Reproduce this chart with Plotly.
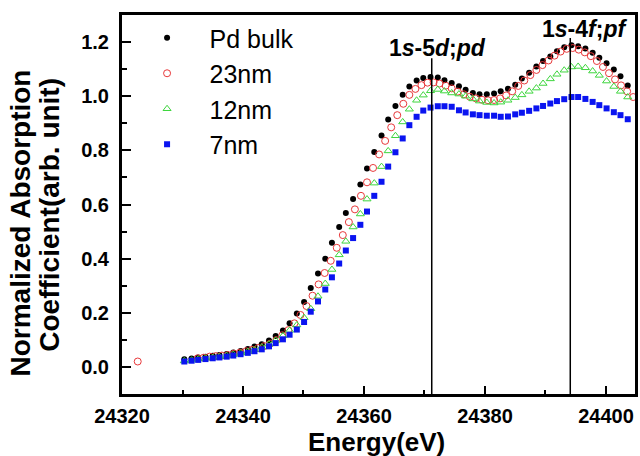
import plotly.graph_objects as go

# ---------------- data ----------------
grid_energy = [24330.3, 24331.5, 24332.6, 24333.8, 24335.0, 24336.1, 24337.3, 24338.4,
               24339.6, 24340.8, 24341.9, 24343.1, 24344.3, 24345.4, 24346.6, 24347.7,
               24348.9, 24350.1, 24351.2, 24352.4, 24353.6, 24354.7, 24355.9, 24357.0,
               24358.2, 24359.4, 24360.5, 24361.7, 24362.9, 24364.0, 24365.2, 24366.4,
               24367.5, 24368.7, 24369.8, 24371.0, 24372.2, 24373.3, 24374.5, 24375.7,
               24376.8, 24378.0, 24379.1, 24380.3, 24381.5, 24382.6, 24383.8, 24385.0,
               24386.1, 24387.3, 24388.5, 24389.6, 24390.8, 24391.9, 24393.1, 24394.3,
               24395.4, 24396.6, 24397.8, 24398.9, 24400.1, 24401.3, 24402.4, 24403.6]

pd_bulk = [0.028, 0.031, 0.035, 0.038, 0.041, 0.044, 0.048, 0.053,
           0.059, 0.066, 0.075, 0.084, 0.098, 0.114, 0.135, 0.161,
           0.197, 0.240, 0.292, 0.345, 0.400, 0.459, 0.517, 0.569,
           0.620, 0.674, 0.733, 0.794, 0.855, 0.914, 0.964, 1.005,
           1.036, 1.058, 1.067, 1.071, 1.069, 1.059, 1.049, 1.037,
           1.024, 1.012, 1.007, 1.007, 1.010, 1.018, 1.028, 1.042,
           1.065, 1.087, 1.110, 1.130, 1.147, 1.166, 1.181, 1.188,
           1.185, 1.176, 1.161, 1.142, 1.122, 1.099, 1.074, 1.040]

nm12 = [0.022, 0.025, 0.029, 0.032, 0.035, 0.038, 0.042, 0.046,
        0.051, 0.057, 0.064, 0.073, 0.084, 0.098, 0.115, 0.135,
        0.155, 0.182, 0.215, 0.261, 0.308, 0.360, 0.414, 0.464,
        0.517, 0.565, 0.620, 0.679, 0.740, 0.798, 0.854, 0.905,
        0.952, 0.985, 1.004, 1.020, 1.025, 1.019, 1.012, 1.008,
        1.000, 0.990, 0.982, 0.977, 0.975, 0.978, 0.985, 0.995,
        1.005, 1.018, 1.030, 1.047, 1.064, 1.081, 1.096, 1.108,
        1.110, 1.105, 1.093, 1.077, 1.056, 1.036, 1.018, 0.997]

nm7 = [0.020, 0.023, 0.026, 0.029, 0.032, 0.035, 0.038, 0.042,
       0.047, 0.052, 0.058, 0.065, 0.076, 0.088, 0.102, 0.119,
       0.138, 0.166, 0.204, 0.242, 0.286, 0.331, 0.382, 0.430,
       0.476, 0.525, 0.574, 0.632, 0.684, 0.740, 0.793, 0.844,
       0.893, 0.924, 0.947, 0.958, 0.963, 0.963, 0.961, 0.948,
       0.940, 0.933, 0.930, 0.928, 0.928, 0.924, 0.925, 0.933,
       0.939, 0.946, 0.955, 0.964, 0.973, 0.982, 0.989, 0.997,
       0.997, 0.990, 0.979, 0.967, 0.955, 0.941, 0.930, 0.915]

nm23_energy = [24322.6,
               24332.5, 24333.5, 24334.5, 24335.5, 24336.5, 24337.5, 24338.5, 24339.5,
               24340.5, 24341.5, 24342.5, 24343.5, 24344.5, 24345.5, 24346.5, 24347.5,
               24348.5, 24349.5, 24350.5, 24351.5, 24352.5, 24353.5, 24354.5, 24355.5,
               24356.5, 24357.5, 24358.5, 24359.5, 24360.5, 24361.5, 24362.5, 24363.5,
               24364.5, 24365.5, 24366.5, 24367.5, 24368.5, 24369.5, 24370.5, 24371.5,
               24372.5, 24373.5, 24374.5, 24375.5, 24376.5, 24377.5, 24378.5, 24379.5,
               24380.5, 24381.5, 24382.5, 24383.5, 24384.5, 24385.5, 24386.5, 24387.5,
               24388.5, 24389.5, 24390.5, 24391.5, 24392.5, 24393.5, 24394.5, 24395.5,
               24396.5, 24397.5, 24398.5, 24399.5, 24400.5, 24401.5, 24402.5, 24403.5,
               24404.5]

nm23 = [0.020,
        0.032, 0.034, 0.038, 0.040, 0.042, 0.044, 0.049, 0.053,
        0.058, 0.063, 0.070, 0.077, 0.086, 0.099, 0.117, 0.136,
        0.161, 0.192, 0.225, 0.263, 0.305, 0.347, 0.392, 0.440,
        0.487, 0.535, 0.582, 0.632, 0.682, 0.735, 0.785, 0.835,
        0.885, 0.930, 0.972, 1.005, 1.027, 1.041, 1.050, 1.051,
        1.047, 1.039, 1.029, 1.017, 1.007, 0.998, 0.992, 0.987,
        0.985, 0.986, 0.992, 1.003, 1.018, 1.038, 1.058, 1.078,
        1.097, 1.115, 1.132, 1.150, 1.165, 1.175, 1.178, 1.172,
        1.162, 1.148, 1.130, 1.108, 1.085, 1.062, 1.040, 1.018,
        0.997]

series_names = ["Pd bulk", "23nm", "12nm", "7nm"]
edge_lines = [24371.2, 24394.1]
edge_line_tops = [1.14, 1.215]
edge_labels = ["<b>1<i>s</i>-5<i>d</i>;<i>pd</i></b>", "<b>1<i>s</i>-4<i>f</i>;<i>pf</i></b>"]
edge_label_pos = [(24372.2, 1.177), (24396.4, 1.25)]

x_range = [24320, 24404.8]
y_range = [-0.1, 1.3]

# ---------------- figure ----------------
fig = go.Figure()
fig.add_trace(go.Scatter(x=grid_energy, y=pd_bulk, mode="markers", name=series_names[0],
                         legendgroup="a",
                         marker=dict(symbol="circle", size=6, color="black")))
fig.add_trace(go.Scatter(x=nm23_energy, y=nm23, mode="markers", name=series_names[1],
                         legendgroup="b",
                         marker=dict(symbol="circle-open", size=7, color="#e8383a",
                                     line=dict(width=1, color="#e8383a"))))
fig.add_trace(go.Scatter(x=grid_energy, y=nm12, mode="markers", name=series_names[2],
                         legendgroup="c",
                         marker=dict(symbol="triangle-up-open", size=7, color="#3ed63e",
                                     line=dict(width=1, color="#3ed63e"))))
fig.add_trace(go.Scatter(x=grid_energy, y=nm7, mode="markers", name=series_names[3],
                         legendgroup="d",
                         marker=dict(symbol="square", size=6, color="#0a14f0")))

for xv, top in zip(edge_lines, edge_line_tops):
    fig.add_shape(type="line", xref="x", yref="y", x0=xv, x1=xv, y0=y_range[0], y1=top,
                  line=dict(color="black", width=1.5))

for txt, (xv, yv) in zip(edge_labels, edge_label_pos):
    fig.add_annotation(x=xv, y=yv, xref="x", yref="y", text=txt, showarrow=False,
                       xanchor="center", yanchor="middle",
                       font=dict(family="Liberation Sans, Arial", size=23, color="black"))

tick_font = dict(family="Liberation Sans, Arial", size=20, color="black", weight="bold")
title_font = dict(family="Liberation Sans, Arial", size=28, color="black")
xtitle_font = dict(family="Liberation Sans, Arial", size=26, color="black")

fig.add_annotation(text="<b>Normalized Absorption</b>", xref="paper", yref="paper",
                   x=-0.198, y=0.451, textangle=-90, showarrow=False,
                   xanchor="center", yanchor="middle", font=title_font)
fig.add_annotation(text="<b>Coefficient(arb. unit)</b>", xref="paper", yref="paper",
                   x=-0.143, y=0.472, textangle=-90, showarrow=False,
                   xanchor="center", yanchor="middle", font=title_font)
fig.add_annotation(text="<b>Energy(eV)</b>", xref="paper", yref="paper",
                   x=0.496, y=-0.127, showarrow=False,
                   xanchor="center", yanchor="middle", font=xtitle_font)

fig.update_layout(
    width=640, height=456,
    margin=dict(l=122, r=2, t=15, b=62),
    paper_bgcolor="white", plot_bgcolor="white",
    showlegend=True,
    legend=dict(x=0.005, y=1.0, xanchor="left", yanchor="top",
                bgcolor="rgba(0,0,0,0)", itemwidth=75, tracegroupgap=0,
                font=dict(family="Liberation Sans, Arial", size=25, color="black")),
    xaxis=dict(range=x_range, tick0=24320, dtick=20, tickformat="d", ticks="inside", ticklen=8,
               tickwidth=2, tickcolor="black",
               minor=dict(dtick=10, ticks="inside", ticklen=4, tickwidth=2, tickcolor="black"),
               showline=True, linewidth=3, linecolor="black", mirror=True,
               showgrid=False, zeroline=False, tickfont=tick_font, ticklabelstandoff=2),
    yaxis=dict(range=y_range, tick0=0, dtick=0.2, tickformat=".1f", ticks="inside",
               ticklen=9, tickwidth=2, tickcolor="black",
               minor=dict(dtick=0.1, ticks="inside", ticklen=5, tickwidth=2, tickcolor="black"),
               showline=True, linewidth=3, linecolor="black", mirror=True,
               showgrid=False, zeroline=False, tickfont=tick_font, ticklabelstandoff=6),
)

fig.write_html("out.html")
